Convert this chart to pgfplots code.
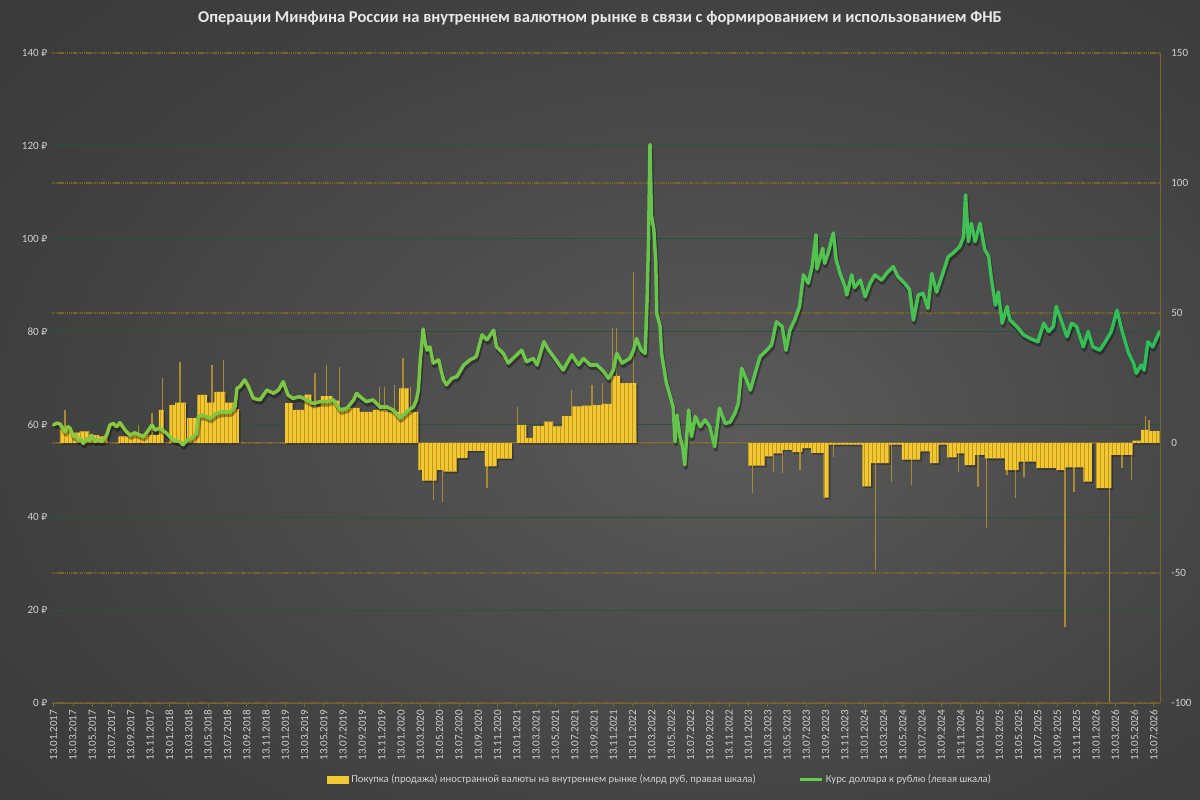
\documentclass[border=0pt]{standalone}
\usepackage{fontspec}
\setmainfont{Carlito}
\newfontfamily\rubfont{DejaVu Sans}[Scale=0.85]
\usepackage{pgfplots}
\usepackage{pgfplotstable}
\usetikzlibrary{patterns}
\pgfplotsset{compat=1.18}
\newcommand{\rub}{{\rubfont ₽}}

\definecolor{bgin}{RGB}{90,90,90}
\definecolor{bgmid}{RGB}{64,64,64}
\definecolor{bgout}{RGB}{34,34,34}
\definecolor{gridgreen}{RGB}{40,84,60}
\definecolor{gridochre}{RGB}{122,100,46}
\definecolor{labelgray}{RGB}{208,208,208}
\definecolor{titlegray}{RGB}{232,232,232}
\definecolor{bargold}{RGB}{242,200,50}
\definecolor{barstreak}{RGB}{196,150,32}
\definecolor{spikegold}{RGB}{168,138,52}
\definecolor{legline}{RGB}{100,205,75}

\pgfdeclareradialshading{bgshade}{\pgfpoint{6bp}{-2bp}}{color(0bp)=(bgin); color(28bp)=(bgmid); color(74bp)=(bgout)}

\pgfplotstableread{
m v
0.0 59.9
0.35 60.3
0.66 60.1
1.0 59.0
1.18 58.4
1.45 59.5
1.7 59.2
2.04 57.4
2.3 57.8
2.56 56.6
2.8 56.9
3.08 55.9
3.43 57.0
3.7 56.5
3.94 57.7
4.29 56.3
4.6 56.8
4.98 56.3
5.25 57.0
5.5 57.7
5.84 59.9
6.19 60.2
6.54 59.5
6.88 60.4
7.1 59.7
7.4 58.8
7.9 57.7
8.4 58.2
8.95 57.7
9.3 57.4
9.65 58.2
10.2 59.9
10.5 58.8
11.0 59.2
11.7 58.1
12.4 56.6
13.1 56.3
13.4 55.6
13.8 56.6
14.3 57.0
14.8 58.1
15.0 61.7
15.5 62.0
16.2 61.3
16.9 62.4
17.6 62.7
18.3 62.7
18.8 63.8
19.0 67.8
19.3 68.1
19.8 69.6
20.2 68.1
20.7 65.6
21.4 65.3
22.1 67.4
22.8 66.7
23.3 67.4
23.8 69.2
24.3 66.3
24.8 65.6
25.5 66.0
26.2 65.3
26.9 64.5
27.6 64.9
28.3 64.9
29.0 65.3
29.7 63.1
30.4 63.5
31.1 65.3
31.4 66.7
31.75 66.0
32.4 64.9
33.1 65.3
33.8 63.8
34.5 63.8
35.2 63.1
35.9 61.4
36.6 62.8
37.3 63.8
37.6 65.3
37.8 67.4
38.0 73.9
38.1 76.0
38.3 80.5
38.5 77.5
38.7 76.0
39.0 76.7
39.35 73.2
39.9 73.9
40.4 69.6
40.7 68.5
41.25 69.9
41.8 70.3
42.5 72.8
43.15 73.9
43.8 74.6
44.4 79.3
44.9 78.2
45.6 80.3
45.9 76.7
46.6 75.3
47.1 73.2
47.6 74.2
48.5 76.0
49.0 73.5
49.7 74.2
50.1 72.8
50.8 77.8
51.3 76.0
51.8 74.6
52.8 71.7
53.7 75.0
54.4 72.8
54.9 74.2
55.6 72.8
56.3 72.8
57.0 71.4
57.5 69.9
58.0 71.7
58.35 75.3
58.9 73.2
59.7 74.2
60.1 76.0
60.4 78.5
60.9 76.0
61.3 75.3
61.5 86.8
61.65 100.0
61.8 120.2
61.95 105.0
62.2 102.0
62.4 95.0
62.5 83.9
62.85 81.1
63.0 75.3
63.5 68.9
63.9 66.0
64.2 63.8
64.4 56.3
64.6 62.0
64.9 57.4
65.2 55.0
65.4 51.3
65.8 63.1
66.1 57.4
66.5 61.7
67.0 59.5
67.5 61.0
68.0 59.5
68.5 55.2
69.0 63.5
69.6 60.2
70.1 60.5
70.6 62.4
70.95 64.5
71.3 72.1
71.8 69.6
72.2 67.4
72.7 71.0
73.2 74.6
73.9 76.0
74.4 77.1
74.9 82.1
75.5 81.1
75.9 76.0
76.3 80.3
76.8 82.5
77.3 85.4
77.7 92.2
78.2 90.4
78.6 94.0
79.0 100.8
79.1 93.5
79.7 97.9
79.9 94.7
80.3 97.2
80.8 101.2
81.1 95.4
81.5 92.5
82.0 89.7
82.2 87.9
82.7 92.2
83.0 89.5
83.6 91.1
84.1 87.5
84.6 90.4
85.1 92.2
85.8 91.1
86.3 92.5
87.0 94.0
87.5 91.8
88.2 90.4
88.7 89.0
89.1 82.5
89.6 87.9
90.1 88.2
90.6 85.0
91.0 92.5
91.5 88.5
92.2 92.9
92.7 96.1
93.2 96.9
93.9 98.3
94.3 100.4
94.5 109.4
94.8 99.4
95.1 103.3
95.5 99.4
96.0 103.3
96.5 97.6
96.9 96.1
97.2 91.1
97.6 85.7
97.9 88.5
98.3 81.8
98.8 85.4
99.1 82.5
99.8 81.1
100.5 79.3
101.2 78.5
102.0 77.8
102.6 81.8
103.1 80.0
103.6 81.1
103.9 85.4
104.4 82.5
105.0 78.9
105.5 81.8
106.0 81.1
106.7 76.7
107.2 80.0
107.7 76.7
108.4 76.0
108.9 77.5
109.6 80.0
110.2 84.6
110.7 80.3
111.4 75.3
111.9 73.2
112.2 71.0
112.7 72.8
113.0 71.7
113.4 77.8
113.9 76.7
114.6 80.0
}\linedata

\pgfplotstableread{
m v
0.0 0
0.65 6
1.2 5
1.7 4
2.7 4.5
3.7 3
4.7 2.5
5.6 0
6.7 2.5
7.7 3
8.7 2.5
9.7 3
10.9 12.7
11.4 0
12.0 14.6
12.6 15.5
13.7 0
13.8 9.6
14.9 18.5
15.9 15.5
16.65 19.7
17.8 15.5
18.9 13
19.2 0
24.0 15.3
24.8 12.7
26.0 18.6
26.7 14
27.7 18
28.9 16.3
29.6 13.5
31.7 12
33.1 12.7
34.6 12
35.8 21
36.8 12
37.8 -10.4
38.2 -14.5
39.7 -10.4
40.4 -11
41.8 -5.8
42.9 -3
44.7 -9
45.9 -6
47.5 0
48.0 7
49.0 2
49.7 6.5
50.8 8.2
51.8 6.4
52.7 10.3
53.7 14.1
54.8 14.4
55.8 14.6
56.8 15
57.8 25.8
58.7 23
60.4 0
72.0 -8.7
73.7 -5.1
74.5 -4
75.5 -2.6
76.5 -3.5
77.6 -2
78.5 -3.8
79.8 -21
80.3 -0.6
83.8 -16.7
84.7 -7.7
86.6 -0.6
87.9 -6.4
89.8 -3.2
90.8 -7.7
91.7 -0.6
92.6 -5.5
93.6 -4
94.4 -8.5
95.5 -4.6
96.5 -5.9
98.6 -10.4
100.0 -7.2
101.8 -9.7
103.9 -10.4
104.8 -9.4
106.7 -14.9
107.6 0
108.0 -17.4
109.6 -4.6
111.8 0.9
112.7 5
113.5 4.6
114.6 0
}\bardata

\pgfplotstableread{
m v
1.18 12.7
8.8 6.9
10.2 11.4
11.3 24.9
13.1 31.3
16.4 30
17.6 31.9
27.1 26.8
28.3 30
29.6 29.4
33.8 21.7
34.3 21.7
35.3 22.3
36.2 32.6
37.0 21.7
38.5 -14.2
39.35 -21.9
40.3 -22.6
44.9 -17.4
48.05 14
53.7 20.4
55.8 22.3
56.9 23
57.9 44.1
58.35 44.1
60.1 65.9
72.4 -19.4
74.6 -11
75.55 -11.5
77.35 -10.4
80.8 -5.3
85.15 -48.8
86.85 -14.9
88.9 -16.2
93.75 -11
95.8 -16.8
96.7 -32.8
98.8 -12.3
99.7 -21.3
100.55 -12.9
104.8 -70.6
105.75 -18.7
109.4 -99.5
110.7 -9.7
111.7 -14.2
113.15 10.4
113.5 9
}\spikedata

\begin{document}
\begin{tikzpicture}
\useasboundingbox (0,0) rectangle (900pt,600pt);
\shade[shading=bgshade] (0,0) rectangle (900pt,600pt);
\node[text=titlegray, font=\bfseries\fontsize{12.4}{15}\selectfont] at (450pt,586.5pt)
 {Операции Минфина России на внутреннем валютном рынке в связи с формированием и использованием ФНБ};

% right scale: bars
\begin{axis}[
 at={(39pt,72.75pt)}, anchor=south west, scale only axis,
 width=831pt, height=487.5pt,
 xmin=-0.166, xmax=114.65, ymin=-100, ymax=150,
 axis x line*=bottom, axis y line*=right,
 axis line style={gridochre, line width=0.7pt},
 xtick={0,2,...,114},
 xticklabels={13.01.2017,13.03.2017,13.05.2017,13.07.2017,13.09.2017,13.11.2017,
 13.01.2018,13.03.2018,13.05.2018,13.07.2018,13.09.2018,13.11.2018,
 13.01.2019,13.03.2019,13.05.2019,13.07.2019,13.09.2019,13.11.2019,
 13.01.2020,13.03.2020,13.05.2020,13.07.2020,13.09.2020,13.11.2020,
 13.01.2021,13.03.2021,13.05.2021,13.07.2021,13.09.2021,13.11.2021,
 13.01.2022,13.03.2022,13.05.2022,13.07.2022,13.09.2022,13.11.2022,
 13.01.2023,13.03.2023,13.05.2023,13.07.2023,13.09.2023,13.11.2023,
 13.01.2024,13.03.2024,13.05.2024,13.07.2024,13.09.2024,13.11.2024,
 13.01.2025,13.03.2025,13.05.2025,13.07.2025,13.09.2025,13.11.2025,
 13.01.2026,13.03.2026,13.05.2026,13.07.2026},
 x tick label style={rotate=90, anchor=east, text=labelgray, font=\fontsize{8.3}{10}\selectfont, inner sep=2pt},
 xtick style={gridochre, line width=0.5pt},
 major tick length=3pt, tick align=outside,
 ytick={-100,-50,0,50,100,150},
 yticklabels={-100,-50,0,50,100,150},
 y tick label style={text=labelgray, font=\fontsize{8.3}{10}\selectfont, anchor=west, xshift=2pt},
 ytick style={draw=none},
 ymajorgrids,
 major grid style={gridochre, dash pattern=on 0.9pt off 0.5pt, line width=0.85pt},
 extra y ticks={-64.2857,-28.5714,7.1429,42.8571,78.5714,114.2857},
 extra y tick labels={},
 extra y tick style={grid=major, major grid style={gridgreen, solid, line width=0.6pt}, tick style={draw=none}},
 clip=true,
]
\addplot[const plot mark left, fill=black, fill opacity=0.3, draw=none, xshift=1.3pt, yshift=-1.3pt, forget plot] table[x=m,y=v] {\bardata} \closedcycle;
\addplot[ycomb, spikegold, line width=1pt, mark=none, forget plot] table[x=m,y=v] {\spikedata};
\addplot[const plot mark left, fill=bargold, draw=none, forget plot] table[x=m,y=v] {\bardata} \closedcycle;
\addplot[const plot mark left, pattern=vertical lines, pattern color=barstreak, draw=none, forget plot] table[x=m,y=v] {\bardata} \closedcycle;
\end{axis}

% left scale: line
\begin{axis}[
 at={(39pt,72.75pt)}, anchor=south west, scale only axis,
 width=831pt, height=487.5pt,
 xmin=-0.166, xmax=114.65, ymin=0, ymax=140,
 axis x line=none, axis y line*=left,
 axis line style={draw=none},
 ytick={0,20,...,140},
 yticklabels={0 \rub,20 \rub,40 \rub,60 \rub,80 \rub,100 \rub,120 \rub,140 \rub},
 y tick label style={text=labelgray, font=\fontsize{8.3}{10}\selectfont},
 ytick style={draw=none},
 legend columns=2,
 legend style={draw=none, fill=none, text=labelgray, font=\fontsize{8}{10}\selectfont,
   at={(0.549,-0.118)}, anchor=center,
   /tikz/every even column/.append style={column sep=30pt}},
]
\addlegendimage{legend image code/.code={\fill[bargold] (0pt,-2.6pt) rectangle (16pt,2.6pt);}}
\addlegendentry{Покупка (продажа) иностранной валюты на внутреннем рынке (млрд руб, правая шкала)}
\addlegendimage{legend image code/.code={\draw[legline, line width=2.6pt] (0pt,0pt) -- (16pt,0pt);}}
\addlegendentry{Курс доллара к рублю (левая шкала)}
\addplot[black, opacity=0.35, line width=3pt, xshift=0.8pt, yshift=-2.2pt, line join=round, forget plot] table[x=m,y=v] {\linedata};
\addplot[mesh, point meta=x, colormap={lg}{rgb255=(140,200,62) rgb255=(108,198,74) rgb255=(42,190,88)},
 line width=2.6pt, line cap=round, line join=round, forget plot] table[x=m,y=v] {\linedata};
\end{axis}
\end{tikzpicture}
\end{document}
